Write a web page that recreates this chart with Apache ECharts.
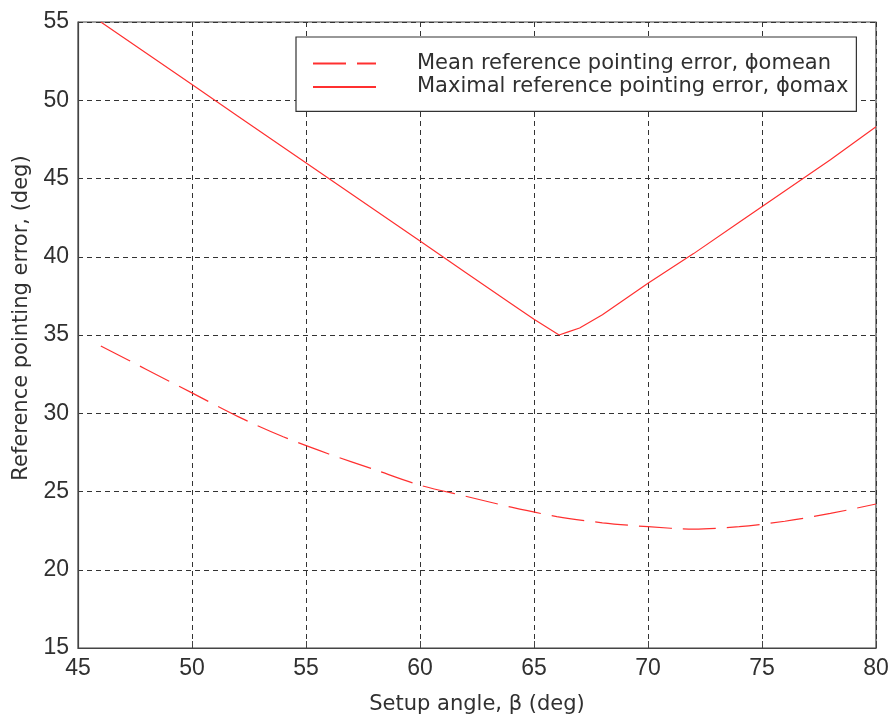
<!DOCTYPE html>
<html>
<head>
<meta charset="utf-8">
<script src="https://cdn.jsdelivr.net/npm/echarts@6/dist/echarts.min.js"></script>
<style>
html,body{margin:0;padding:0;background:#fff;}
#chart{width:890px;height:722px;}
</style>
</head>
<body>
<div id="chart"></div>
<script>
// setup angle beta (deg)
var angleMean = [46, 48, 50, 52, 54, 56, 58, 60, 62, 64, 66, 68, 70, 72, 74, 76, 78, 80];
var errMean = [34.3, 32.8, 31.3, 29.8, 28.5, 27.4, 26.4, 25.4, 24.7, 24.0, 23.4, 23.0, 22.75, 22.6, 22.75, 23.1, 23.6, 24.2];

var angleMax = [46, 48, 50, 52, 54, 56, 58, 60, 62, 64, 65, 66.1, 66.5, 67, 68, 70, 72, 74, 76, 78, 80];
var errMax = [55, 53, 51, 49, 47, 45, 43, 41, 39, 37, 36, 35.0, 35.2, 35.45, 36.3, 38.3, 40.2, 42.2, 44.2, 46.2, 48.3];

var xTicks = [45, 50, 55, 60, 65, 70, 75, 80];
var yTicks = [15, 20, 25, 30, 35, 40, 45, 50, 55];

var names = ['Mean reference pointing error, \u03d5omean', 'Maximal reference pointing error, \u03d5omax'];

function pairs(xs, ys){
	var out = [];
	for(var i=0;i<xs.length;i++){ out.push([xs[i], ys[i]]); }
	return out;
}

var myChart = echarts.init(document.getElementById('chart'));
var txt = '#303030';
var font = '"DejaVu Sans", sans-serif';
var numFont = '"Liberation Sans", Arial, sans-serif';
var red = '#ff3030';

var option = {
	animation: false,
	backgroundColor: '#fff',
	grid: {left: 78, right: 14, top: 22, bottom: 74, show: true, borderColor: '#444', borderWidth: 1.2,
		containLabel: false, outerBoundsMode: 'none'},
	legend: {
		orient: 'vertical',
		left: 296,
		top: 37,
		data: names,
		backgroundColor: '#fff',
		borderColor: '#333',
		borderWidth: 1.2,
		padding: [15, 8, 13, 16],
		itemWidth: 63,
		itemHeight: 14,
		itemGap: 0.4,
		itemStyle: {opacity: 0},
		textStyle: {color: txt, fontSize: 21, fontFamily: font, lineHeight: 23, padding: [0, 0, 0, 36]}
	},
	xAxis: {
		type: 'value',
		min: xTicks[0],
		max: xTicks[xTicks.length-1],
		interval: 5,
		name: 'Setup angle, \u03b2 (deg)',
		nameLocation: 'middle',
		nameGap: 46,
		nameTextStyle: {color: txt, fontSize: 21, fontFamily: font},
		axisLine: {show: true, lineStyle: {color: '#444', width: 1.2}},
		axisTick: {show: true, inside: true, length: 7, lineStyle: {color: '#444'}},
		axisLabel: {color: txt, fontSize: 23, fontFamily: numFont, margin: 9},
		splitLine: {show: true, lineStyle: {color: '#333', type: [5, 4], width: 1}}
	},
	yAxis: {
		type: 'value',
		min: yTicks[0],
		max: yTicks[yTicks.length-1],
		interval: 5,
		name: 'Reference pointing error, (deg)',
		nameLocation: 'middle',
		nameGap: 46,
		nameTextStyle: {color: txt, fontSize: 21, fontFamily: font, padding: [0, 0, 0, 34]},
		axisLine: {show: true, lineStyle: {color: '#444', width: 1.2}},
		axisTick: {show: false},
		axisLabel: {color: txt, fontSize: 23, fontFamily: numFont, margin: 9},
		splitLine: {show: true, lineStyle: {color: '#333', type: [5, 4], width: 1}}
	},
	series: [
		{
			name: names[0],
			type: 'line',
			data: pairs(angleMean, errMean),
			showSymbol: false,
			symbol: 'none',
			smooth: 0.3,
			color: red,
			lineStyle: {color: red, width: 1.2, type: [33, 11]}
		},
		{
			name: names[1],
			type: 'line',
			data: pairs(angleMax, errMax),
			showSymbol: false,
			symbol: 'none',
			color: red,
			lineStyle: {color: red, width: 1.2, type: 'solid'}
		}
	]
};

myChart.setOption(option);
</script>
</body>
</html>
